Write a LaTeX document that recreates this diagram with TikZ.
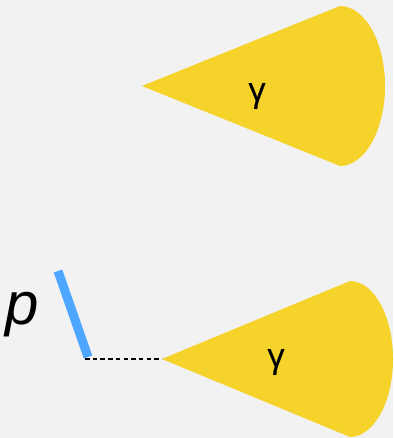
\documentclass[tikz,border=0pt]{standalone}
\usepackage{fontspec}
\setmainfont{Liberation Sans}
\newfontfamily\greekfont[FakeBold=0.9]{Open Sans}
\definecolor{bgcol}{HTML}{F2F2F2}
\definecolor{conecol}{HTML}{F5D32A}
\definecolor{platecol}{HTML}{4DA6FF}

\begin{document}
\begin{tikzpicture}[x=1pt, y=1pt,
    cone/.style={fill=conecol, draw=none},
    plate/.style={platecol, line width=9pt},
    gamma/.style={font=\greekfont\fontsize{33}{33}\selectfont, inner sep=0pt},
    link/.style={black, line width=2pt, dash pattern=on 4.5pt off 3.2pt}]
  % canvas, fixes the bounding box
  \fill[bgcol] (0,0) rectangle (393,438);
  % upper cone, free photon
  \fill[cone] (142,352) -- (340,432)
    arc[start angle=90, end angle=-90, x radius=45, y radius=80] -- cycle;
  \node[gamma] (gtop) at (257,342) {γ};
  % lower cone, emitted from the end of the plate
  \coordinate (apex) at (162,79);
  \fill[cone] (apex) -- (350,157)
    arc[start angle=90, end angle=-90, x radius=43, y radius=78] -- cycle;
  \node[gamma] (gbot) at (276,76) {γ};
  % plate p and its link to the cone tip
  \coordinate (ptop) at (58,167);
  \coordinate (pbot) at (88,81);
  \coordinate (pfoot) at (85,79);
  \draw[plate] (ptop) -- (pbot);
  \draw[link] (pfoot) -- (apex);
  \node[font=\itshape\fontsize{60}{60}\selectfont, inner sep=0pt, anchor=base west] (plabel) at (5,113) {p};
\end{tikzpicture}
\end{document}
